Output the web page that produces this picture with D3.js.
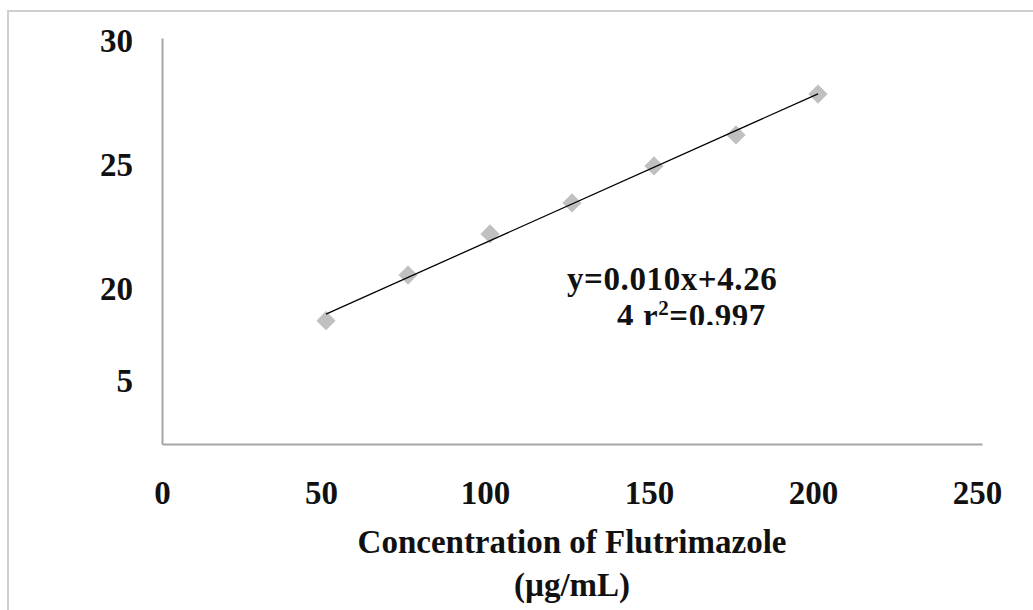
<!DOCTYPE html>
<html>
<head>
<meta charset="utf-8">
<script src="https://cdn.jsdelivr.net/npm/d3@7"></script>
<style>
  body { margin: 0; background: #fff; }
  svg { display: block; }
  text { font-family: 'Liberation Serif', 'DejaVu Serif', serif; font-weight: bold; fill: #111; }
</style>
</head>
<body>
<div id="chart"></div>
<script>
// data
const concentration = [50, 75, 100, 125, 150, 175, 200];
const response = [18.72, 20.56, 22.22, 23.47, 24.96, 26.21, 27.86];

const xTickValues = [0, 50, 100, 150, 200, 250];
// the y labels in the source do not follow the scale (30, 25, 20, then 5)
const yTickValues = [30, 25, 20, 16.3];
const yTickLabels = ['30', '25', '20', '5'];
const xDomain = [0, 250];
const yDomain = [13.75, 30.12];

const xTitle = ['Concentration of Flutrimazole', '(\u00b5g/mL)'];
const eqLine = 'y=0.010x+4.26';

const W = 1033;
const H = 610;
const margin = { top: 38, right: 51, bottom: 166, left: 162 };
const fs = 33;

const svg = d3.select('#chart').append('svg')
  .attr('width', W)
  .attr('height', H);

// outer frame (only top and left edges show)
svg.append('path')
  .attr('d', `M8,${H} L8,11 L${W},11`)
  .attr('fill', 'none')
  .attr('stroke', '#cfcfcf')
  .attr('stroke-width', 2);

const x = d3.scaleLinear().domain(xDomain).range([margin.left, W - margin.right]);
const y = d3.scaleLinear().domain(yDomain).range([H - margin.bottom, margin.top]);

// x axis
const gx = svg.append('g')
  .attr('transform', `translate(0,${H - margin.bottom})`)
  .call(d3.axisBottom(x).tickValues(xTickValues).tickSize(0).tickPadding(37));
gx.select('.domain').attr('stroke', '#a6a6a6').attr('stroke-width', 2);
gx.selectAll('text')
  .attr('font-size', fs)
  .attr('font-family', 'Liberation Serif')
  .attr('font-weight', 'bold')
  .attr('fill', '#111')
  .attr('dx', d => (d === 0 ? 0 : -5));

// y axis
const gy = svg.append('g')
  .attr('transform', `translate(${margin.left},0)`)
  .call(d3.axisLeft(y)
    .tickValues(yTickValues)
    .tickFormat((d, i) => yTickLabels[i])
    .tickSize(0)
    .tickPadding(29));
gy.select('.domain').attr('stroke', '#a6a6a6').attr('stroke-width', 2);
gy.selectAll('text')
  .attr('font-size', fs)
  .attr('font-family', 'Liberation Serif')
  .attr('font-weight', 'bold')
  .attr('fill', '#111');

// markers
const pts = concentration.map((c, i) => ({ x: c, y: response[i] }));
svg.selectAll('.pt')
  .data(pts)
  .enter().append('path')
  .attr('class', 'pt')
  .attr('d', d3.symbol(d3.symbolSquare, 185))
  .attr('transform', d => `translate(${x(d.x)},${y(d.y)}) rotate(45)`)
  .attr('fill', '#c0c0c0');

// linear trendline over the data range
const mx = d3.mean(concentration);
const my = d3.mean(response);
const slope = d3.sum(pts, d => (d.x - mx) * (d.y - my)) / d3.sum(pts, d => (d.x - mx) ** 2);
const icpt = my - slope * mx;
const ends = d3.extent(concentration);
svg.append('line')
  .attr('x1', x(ends[0])).attr('y1', y(icpt + slope * ends[0]))
  .attr('x2', x(ends[1])).attr('y2', y(icpt + slope * ends[1]))
  .attr('stroke', '#000')
  .attr('stroke-width', 1.3);

// equation label, clipped at the bottom like the original box
svg.append('clipPath').attr('id', 'eqclip')
  .append('rect').attr('x', 540).attr('y', 250).attr('width', 300).attr('height', 75);
const eq = svg.append('g').attr('clip-path', 'url(#eqclip)');
eq.append('text')
  .attr('x', 567).attr('y', 290)
  .attr('font-size', fs)
  .attr('letter-spacing', 0.6)
  .text(eqLine);
const t2 = eq.append('text')
  .attr('x', 617).attr('y', 327)
  .attr('font-size', fs)
  .attr('letter-spacing', 0.6);
t2.append('tspan').text('4 r');
t2.append('tspan').attr('dy', -12).attr('font-size', 21).text('2');
t2.append('tspan').attr('dy', 12).text('=0.997');

// x axis title
svg.append('text')
  .attr('text-anchor', 'middle')
  .attr('font-size', fs)
  .selectAll('tspan')
  .data(xTitle)
  .enter().append('tspan')
  .attr('x', (x.range()[0] + x.range()[1]) / 2)
  .attr('y', (d, i) => 553 + i * 43)
  .text(d => d);
</script>
</body>
</html>
